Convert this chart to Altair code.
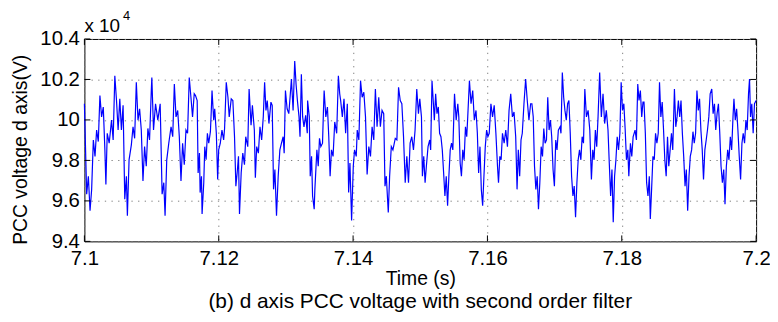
import altair as alt
import pandas as pd

# ---- data (time in ms after 7.1 s, voltage in x10^4 V) ----
seg1 = [(0.00,10.080),(0.34,9.633),(0.59,9.722),(0.84,9.551),(1.08,9.657),(1.33,9.901),(1.58,9.820),(1.82,9.950),
        (2.07,9.893),(2.31,10.120),(2.56,10.015),(2.81,10.064),(3.05,9.852),(3.20,9.681),(3.40,9.934),(3.69,9.885),
        (4.04,9.999),(4.28,9.901),(4.53,10.218),(4.78,10.096),(5.02,9.950),(5.27,10.104),(5.51,9.950),(5.76,10.072),
        (6.01,9.608),(6.25,9.722),(6.40,9.527),(6.65,9.803),(6.99,9.877),(7.24,9.966),(7.48,9.909),(7.73,10.186),
        (7.98,9.999),(8.22,10.055),(8.47,9.950),(8.72,9.698),(8.96,9.868),(9.21,9.771),(9.45,9.958),(9.70,9.901),
        (9.95,10.137),(10.04,10.210),(10.29,9.950),(10.59,10.080),(10.93,9.999),(11.28,10.080),(11.57,9.633),(11.82,9.690),
        (12.01,9.527),(12.26,9.803),(12.56,9.885),(12.90,9.966),(13.15,9.917),(13.39,10.177),(13.64,10.015),(13.89,10.047),
        (14.13,9.917),(14.38,9.698),(14.62,9.885),(14.87,9.779),(15.12,9.950),(15.36,9.934),(15.61,10.210),(15.86,10.112),
        (16.10,10.015),(16.35,10.129)]
seg2 = [(16.54,10.120),(16.79,10.096),(16.93,9.738),(17.13,9.836),(17.23,9.641),(17.43,9.722),(17.52,9.535),(17.77,9.690),
        (17.92,9.868),(18.12,9.803),(18.31,9.934),(18.51,9.885),(18.76,9.942),(18.90,10.055),(19.00,10.145),(19.25,9.999),
        (19.40,10.055),(19.64,9.934),(19.84,9.706),(19.99,9.852),(20.23,9.885),(20.48,9.950),(20.73,9.901),(20.87,9.958),
        (21.12,10.186),(21.37,10.112),(21.56,10.015),(21.86,10.104),(22.10,10.096),(22.35,9.917),(22.55,9.673),(22.74,9.738),
        (22.94,9.820),(23.09,9.535),(23.34,9.738),(23.58,9.836),(23.83,9.779),(24.02,9.917),(24.32,9.868),(24.52,10.153),
        (24.81,9.974),(25.01,10.072),(25.30,9.950),(25.45,9.714),(25.65,9.868),(25.90,9.836),(26.14,9.966),(26.39,9.901),
        (26.63,10.015),(26.83,10.186),(27.03,10.047),(27.22,10.096),(27.47,9.982),(27.77,10.088),(27.96,10.072),(28.16,9.657),
        (28.36,9.755),(28.60,9.527),(28.85,9.722),(29.10,9.852),(29.34,9.885),(29.59,9.917),(29.74,9.836),(29.93,10.145),
        (30.18,10.055),(30.43,10.031),(30.62,10.112),(30.82,10.202),(31.07,10.047),(31.31,10.291),(31.51,10.177),(31.71,10.096),
        (31.95,10.015),(32.10,9.917),(32.30,10.226),(32.49,10.015),(32.69,9.966),(32.94,10.023),(33.18,9.934)]
seg3 = [(33.23,10.096),(33.48,10.015),(33.62,9.722),(33.82,9.820),(33.97,9.624),(34.21,9.559),(34.31,9.657),(34.61,9.852),
        (34.81,9.771),(35.00,9.909),(35.20,9.868),(35.45,9.885),(35.59,10.047),(35.69,10.145),(35.94,10.015),(36.18,10.064),
        (36.38,9.917),(36.58,9.722),(36.78,9.852),(37.02,9.820),(37.27,9.990),(37.56,9.934),(37.81,10.218),(38.01,10.129),
        (38.15,10.096),(38.40,10.015),(38.65,10.104),(38.89,9.934),(39.14,10.080),(39.34,9.641),(39.53,9.787),(39.78,9.503),
        (40.03,9.771),(40.22,9.852),(40.47,9.820),(40.62,9.950),(40.86,9.901),(41.11,10.194),(41.35,10.112),(41.60,10.137),
        (41.85,10.015),(42.09,9.730),(42.34,9.868),(42.59,9.820),(42.83,9.966),(43.08,9.901),(43.32,10.153),(43.57,9.966),
        (43.82,10.112),(44.06,9.966),(44.31,10.047),(44.56,10.031),(44.75,9.673),(44.95,9.722),(45.24,9.543),(45.44,9.722),
        (45.69,9.868),(45.93,9.852),(46.28,9.909),(46.52,9.901),(46.77,10.161),(47.02,10.096),(47.26,10.080),(47.51,9.917),
        (47.76,9.690),(48.00,9.820),(48.25,9.690),(48.49,9.885),(48.74,9.917),(48.99,9.852),(49.23,9.950),(49.48,10.153),
        (49.73,10.031)]
seg4 = [(49.93,10.104),(50.18,10.015),(50.32,9.722),(50.52,9.820),(50.72,9.690),(50.91,9.771),(51.16,9.868),(51.41,9.901),
        (51.55,9.852),(51.75,10.194),(51.90,10.112),(52.10,9.999),(52.29,10.129),(52.49,10.031),(52.69,10.064),(52.88,9.934),
        (53.08,9.917),(53.28,9.852),(53.48,9.738),(53.67,9.624),(53.87,9.722),(54.07,9.576),(54.26,9.722),(54.46,9.852),
        (54.66,9.885),(54.85,9.852),(55.10,10.129),(55.35,9.999),(55.59,10.080),(55.74,10.015),(55.94,9.787),(56.13,9.722),
        (56.33,9.852),(56.53,9.803),(56.73,9.966),(56.92,9.917),(57.07,10.015),(57.32,10.194),(57.56,10.080),(57.81,10.145),
        (58.05,9.999),(58.30,10.047),(58.50,9.934),(58.69,9.738),(58.89,9.868),(59.09,9.657),(59.29,9.576),(59.48,9.722),
        (59.68,9.868),(59.88,9.950),(60.07,9.917),(60.27,9.934),(60.52,10.080),(60.76,10.015),(61.01,10.072),(61.26,9.934),
        (61.50,9.771),(61.65,9.690),(61.85,9.820),(62.04,9.803),(62.24,9.934),(62.49,9.885),(62.73,9.950),(62.98,9.868),
        (63.22,10.047),(63.47,10.129),(63.72,10.015),(63.96,10.039),(64.21,9.917),(64.41,9.657),(64.60,9.852),(64.80,9.722),
        (65.00,9.901),(65.19,9.934),(65.44,10.080),(65.69,10.202),(65.93,10.096),(66.18,9.999),(66.43,10.080)]
seg5 = [(66.62,10.080),(66.82,10.015),(67.01,9.771),(67.21,9.657),(67.41,9.722),(67.60,9.559),(67.80,9.690),(68.00,9.868),
        (68.20,9.820),(68.39,9.958),(68.59,9.885),(68.79,9.901),(68.98,10.112),(69.18,9.950),(69.38,9.999),(69.57,9.917),
        (69.77,9.755),(69.97,9.673),(70.17,9.901),(70.36,9.852),(70.56,9.950),(70.81,9.966),(70.95,9.934),(71.15,10.234),
        (71.35,10.112),(71.54,10.047),(71.74,9.999),(71.94,10.080),(72.13,10.096),(72.33,9.934),(72.53,9.722),(72.73,9.624),
        (72.92,9.673),(73.12,9.519),(73.32,9.690),(73.51,9.803),(73.71,9.852),(73.91,9.803),(74.10,9.917),(74.30,9.885),
        (74.50,10.153),(74.74,10.015),(74.99,10.047),(75.24,9.950),(75.48,9.706),(75.68,9.852),(75.88,9.803),(76.07,9.950),
        (76.27,9.868),(76.47,10.015),(76.71,10.234),(76.96,10.015),(77.21,10.129),(77.45,9.982),(77.70,10.047),(77.95,9.950),
        (78.14,9.787),(78.34,9.624),(78.54,9.755),(78.73,9.494),(78.93,9.722),(79.13,9.803),(79.32,9.917),(79.52,9.852),
        (79.72,9.934),(79.91,10.186),(80.11,10.047),(80.31,10.080),(80.51,9.950),(80.70,9.803),(80.90,9.852),(81.05,9.722),
        (81.29,9.885),(81.49,9.820),(81.69,9.917),(81.98,9.950),(82.18,9.901),(82.38,10.177),(82.57,10.096),(82.77,10.145),
        (82.97,10.015),(83.16,10.088)]
seg6 = [(83.31,10.088),(83.51,9.934),(83.70,9.690),(83.90,9.624),(84.10,9.722),(84.25,9.511),(84.44,9.657),(84.64,9.820),
        (84.84,9.803),(85.03,9.934),(85.23,9.885),(85.43,9.934),(85.62,10.186),(85.82,10.015),(86.02,10.088),(86.22,9.950),
        (86.41,9.803),(86.61,9.722),(86.81,9.917),(87.00,9.771),(87.20,9.852),(87.40,9.934),(87.59,9.852),(87.84,10.153),
        (88.04,9.966),(88.23,10.015),(88.43,10.096),(88.63,10.015),(88.82,10.096),(89.02,9.934),(89.22,9.820),(89.42,9.673),
        (89.61,9.755),(89.81,9.551),(90.01,9.722),(90.20,9.820),(90.40,9.852),(90.60,9.942),(90.79,9.885),(90.99,9.934),
        (91.19,10.145),(91.39,10.047),(91.58,10.104),(91.78,9.950),(91.98,9.852),(92.17,9.706),(92.37,9.852),(92.57,9.901),
        (92.76,9.950),(92.96,10.015),(93.16,10.129),(93.40,10.153),(93.60,10.031),(93.80,10.080),(93.99,9.950),(94.19,10.031),
        (94.39,10.080),(94.59,9.934),(94.78,9.771),(94.98,9.690),(95.18,9.755),(95.37,9.584),(95.57,9.771),(95.77,9.852),
        (95.96,9.803),(96.16,9.917),(96.36,9.852),(96.56,10.015),(96.70,10.104),(96.90,9.999),(97.10,10.055),(97.29,9.950),
        (97.49,9.820),(97.69,9.706),(97.89,9.885),(98.08,9.934),(98.28,9.885),(98.48,9.999),(98.67,9.950),(98.87,10.129),
        (99.02,10.202),(99.17,10.015),(99.36,10.080),(99.56,9.934),(99.76,10.080),(100.00,10.096)]

x_ticks = [7.1, 7.12, 7.14, 7.16, 7.18, 7.2]
y_ticks = [9.4, 9.6, 9.8, 10.0, 10.2, 10.4]
x_title = "Time (s)"
y_title = "PCC voltage d axis(V)"
multiplier = "x 10"
exponent = "4"
caption = "(b) d axis PCC voltage with second order filter"

points = seg1 + seg2 + seg3 + seg4 + seg5 + seg6
df = pd.DataFrame({"t": [7.1 + ms / 1000.0 for ms, _ in points],
                   "v": [v for _, v in points]})
xt_df = pd.DataFrame({"t": x_ticks})
yt_df = pd.DataFrame({"v": y_ticks})
one = pd.DataFrame({"a": [0]})

W, H = 677, 204
FONT = "Liberation Sans"
FS_TICK = 20.5
FS_XTITLE = 19.5
FS_CAPTION = 21
FS_YTITLE = 19.5

xs = alt.Scale(domain=[7.1, 7.2], nice=False, zero=False)
ys = alt.Scale(domain=[9.4, 10.4], nice=False, zero=False)
grid_kw = dict(grid=True, gridColor="#808080", gridDash=[1.3, 5.4], gridWidth=1,
               domain=False, ticks=True, tickSize=0, tickWidth=0)

x_axis = alt.Axis(values=x_ticks, format="~g", title=x_title, labelFlush=False,
                  labelPadding=23, labelBaseline="alphabetic", labelFontSize=FS_TICK,
                  titleFontSize=FS_XTITLE, titleX=W / 2, titleY=43, titleBaseline="alphabetic",
                  **grid_kw)
y_axis = alt.Axis(values=y_ticks, format="~g", title=y_title, labelFlush=False,
                  labelPadding=5, labelFontSize=FS_TICK, titleFontSize=FS_YTITLE,
                  titleAngle=270, titleX=-58, titleY=207, titleAlign="left",
                  titleBaseline="alphabetic", **grid_kw)

X = alt.X("t:Q", scale=xs, axis=x_axis)
Y = alt.Y("v:Q", scale=ys, axis=y_axis)

line = alt.Chart(df).mark_line(color="#0000ff", strokeWidth=1.2, interpolate="linear").encode(x=X, y=Y)

tick_len = 6
bottom_ticks = alt.Chart(xt_df).mark_rule(color="black", strokeWidth=1).encode(
    x=X, y=alt.value(H), y2=alt.value(H - tick_len))
top_ticks = alt.Chart(xt_df).mark_rule(color="black", strokeWidth=1).encode(
    x=X, y=alt.value(0), y2=alt.value(tick_len))
left_ticks = alt.Chart(yt_df).mark_rule(color="black", strokeWidth=1).encode(
    y=Y, x=alt.value(0), x2=alt.value(tick_len))
right_ticks = alt.Chart(yt_df).mark_rule(color="black", strokeWidth=1).encode(
    y=Y, x=alt.value(W), x2=alt.value(W - tick_len))

mult_txt = alt.Chart(one).mark_text(text=multiplier, font=FONT, fontSize=19, align="left",
                                    baseline="alphabetic", color="black").encode(
    x=alt.value(0), y=alt.value(-7))
exp_txt = alt.Chart(one).mark_text(text=exponent, font=FONT, fontSize=13, align="left",
                                   baseline="alphabetic", color="black").encode(
    x=alt.value(39), y=alt.value(-19))
cap_txt = alt.Chart(one).mark_text(text=caption, font=FONT, fontSize=FS_CAPTION, align="center",
                                   baseline="alphabetic", color="black").encode(
    x=alt.value(W / 2), y=alt.value(271))

chart = alt.layer(line, bottom_ticks, top_ticks, left_ticks, right_ticks,
                  mult_txt, exp_txt, cap_txt).properties(
    width=W, height=H,
    padding={"left": 77, "top": 30, "right": 14, "bottom": 74},
    autosize=alt.AutoSizeParams(type="none"),
    background="white",
).configure_view(stroke="black", strokeWidth=1).configure_axis(
    labelFont=FONT, titleFont=FONT, labelColor="black", titleColor="black",
    titleFontWeight="normal",
)

chart.save("out.html", embed_options={"renderer": "svg", "actions": False})
